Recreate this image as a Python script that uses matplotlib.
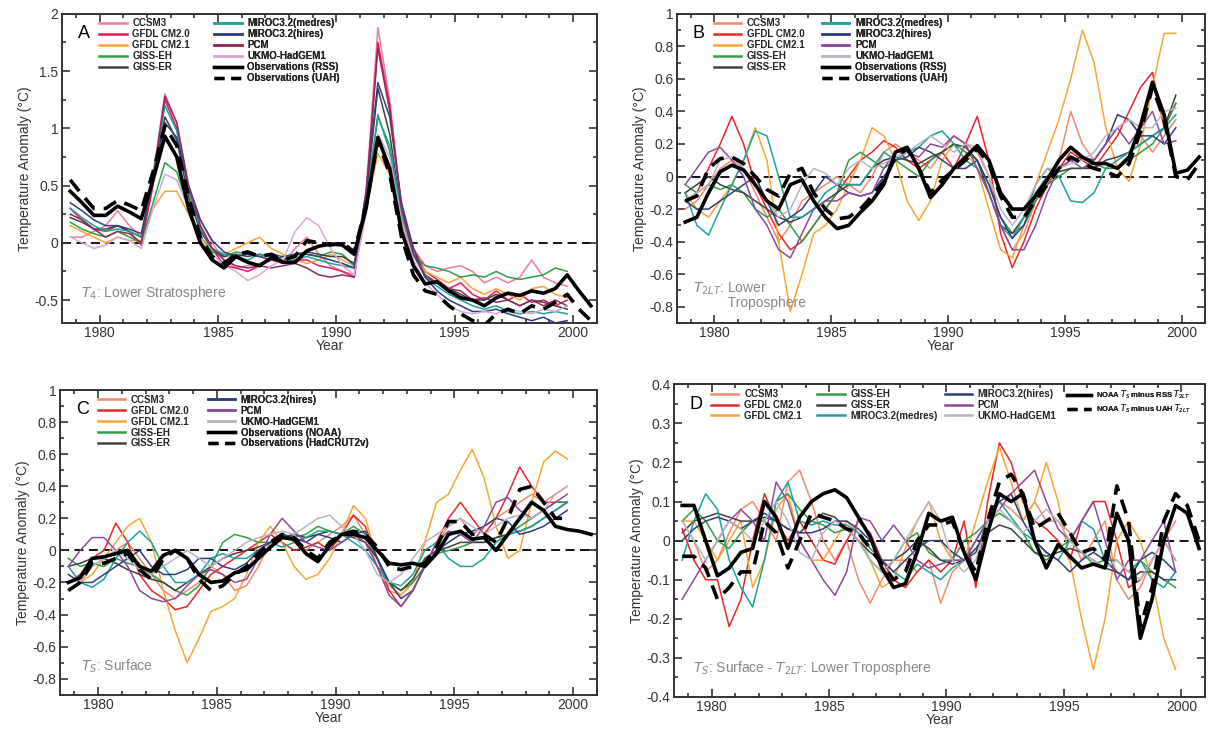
import numpy as np
import matplotlib.pyplot as plt
from matplotlib.ticker import MultipleLocator, FuncFormatter
from matplotlib.lines import Line2D

# half-year time axis (models stop at end of 1999, observations run to 2001)
T_MOD = np.arange(1978.75, 2000.0, 0.5)
T_OBS = np.arange(1978.75, 2001.0, 0.5)

MODEL_NAMES = ['CCSM3', 'GFDL CM2.0', 'GFDL CM2.1', 'GISS-EH', 'GISS-ER',
               'MIROC3.2(medres)', 'MIROC3.2(hires)', 'PCM', 'UKMO-HadGEM1']

COLORS = {
    'CCSM3': '#f08a6c', 'GFDL CM2.0': '#e8262a', 'GFDL CM2.1': '#f7a534',
    'GISS-EH': '#2f9e44', 'GISS-ER': '#3f3f3f', 'MIROC3.2(medres)': '#1aa39a',
    'MIROC3.2(hires)': '#2e3f80', 'PCM': '#8e4a9c', 'UKMO-HadGEM1': '#b8b4c4',
}
COLORS_A = dict(COLORS, **{'CCSM3': '#f27a9a', 'GFDL CM2.0': '#e5195f',
                           'PCM': '#8c2d5e', 'UKMO-HadGEM1': '#d8a8d8'})

# ================================
# A: T4 lower stratosphere
# ================================
A_MODELS = {
    'CCSM3': [0.05, 0.05, 0.10, 0.15, 0.28, 0.15, 0.05, 0.60, 1.30, 1.05, 0.50, 0.20, 0.00, -0.15, -0.22,
              -0.20, -0.18, -0.15, -0.18, -0.05, 0.05, -0.10, -0.20, -0.25, -0.28, 0.45, 1.88, 1.25, 0.30,
              -0.05, -0.20, -0.25, -0.22, -0.20, -0.25, -0.35, -0.30, -0.35, -0.30, -0.15, -0.30, -0.35, -0.38],
    'GFDL CM2.0': [0.30, 0.20, 0.12, 0.10, 0.15, 0.10, -0.02, 0.50, 1.25, 1.00, 0.45, 0.15, -0.05, -0.20, -0.22,
                   -0.25, -0.20, -0.15, -0.18, -0.15, -0.15, -0.20, -0.22, -0.25, -0.30, 0.40, 1.75, 1.20, 0.30,
                   -0.05, -0.25, -0.32, -0.40, -0.35, -0.45, -0.50, -0.42, -0.50, -0.45, -0.52, -0.50, -0.55, -0.50],
    'GFDL CM2.1': [0.15, 0.10, 0.05, 0.00, 0.05, 0.02, 0.02, 0.30, 0.45, 0.45, 0.25, 0.05, -0.05, -0.10, -0.05,
                   0.00, 0.05, -0.05, -0.10, -0.15, -0.18, -0.15, -0.10, -0.15, -0.20, 0.30, 0.78, 0.60, 0.15,
                   -0.10, -0.25, -0.30, -0.35, -0.30, -0.40, -0.45, -0.40, -0.45, -0.50, -0.40, -0.38, -0.45, -0.48],
    'GISS-EH': [0.18, 0.12, 0.08, 0.05, 0.10, 0.05, 0.00, 0.35, 0.70, 0.62, 0.30, 0.05, -0.08, -0.12, -0.08,
                -0.10, -0.12, -0.10, -0.12, -0.10, -0.10, -0.12, -0.08, -0.10, -0.20, 0.35, 1.12, 0.80, 0.20,
                -0.10, -0.20, -0.22, -0.25, -0.30, -0.28, -0.30, -0.25, -0.30, -0.32, -0.30, -0.28, -0.22, -0.25],
    'GISS-ER': [0.22, 0.18, 0.12, 0.12, 0.15, 0.10, 0.05, 0.55, 1.10, 0.90, 0.40, 0.10, -0.05, -0.12, -0.10,
                -0.12, -0.10, -0.12, -0.15, -0.10, -0.08, -0.10, -0.12, -0.12, -0.18, 0.40, 1.35, 0.95, 0.25,
                -0.10, -0.30, -0.35, -0.40, -0.45, -0.50, -0.50, -0.45, -0.50, -0.55, -0.50, -0.52, -0.55, -0.58],
    'MIROC3.2(medres)': [0.30, 0.22, 0.15, 0.10, 0.12, 0.10, 0.05, 0.60, 1.20, 0.98, 0.45, 0.12, -0.05, -0.10,
                         -0.12, -0.15, -0.10, -0.12, -0.18, -0.15, -0.12, -0.15, -0.18, -0.20, -0.22, 0.35, 1.10,
                         0.85, 0.25, -0.10, -0.30, -0.38, -0.45, -0.50, -0.55, -0.58, -0.55, -0.60, -0.62, -0.60,
                         -0.62, -0.60, -0.62],
    'MIROC3.2(hires)': [0.35, 0.28, 0.20, 0.15, 0.15, 0.12, 0.08, 0.55, 1.05, 0.92, 0.50, 0.20, 0.02, -0.08,
                        -0.12, -0.10, -0.12, -0.15, -0.12, -0.10, -0.10, -0.12, -0.15, -0.18, -0.22, 0.45, 1.40,
                        1.10, 0.35, -0.05, -0.30, -0.42, -0.50, -0.55, -0.60, -0.60, -0.58, -0.62, -0.65, -0.68,
                        -0.65, -0.70, -0.68],
    'PCM': [0.25, 0.20, 0.12, 0.05, 0.10, 0.08, 0.00, 0.55, 1.28, 1.05, 0.50, 0.15, -0.05, -0.15, -0.20,
            -0.22, -0.20, -0.22, -0.20, -0.18, -0.22, -0.28, -0.30, -0.28, -0.30, 0.40, 1.70, 1.15, 0.30,
            -0.10, -0.28, -0.35, -0.40, -0.42, -0.50, -0.48, -0.52, -0.50, -0.55, -0.50, -0.55, -0.50, -0.55],
    'UKMO-HadGEM1': [0.05, 0.00, -0.05, -0.02, 0.05, 0.02, -0.05, 0.30, 0.60, 0.55, 0.30, 0.05, -0.10, -0.20,
                     -0.25, -0.33, -0.28, -0.20, -0.15, 0.10, 0.22, 0.15, -0.05, -0.20, -0.28, 0.25, 0.95, 0.75,
                     0.20, -0.15, -0.35, -0.45, -0.55, -0.60, -0.62, -0.60, -0.62, -0.58, -0.60, -0.62, -0.58,
                     -0.60, -0.55],
}
A_RSS = [0.45, 0.35, 0.24, 0.24, 0.32, 0.27, 0.21, 0.55, 0.93, 0.75, 0.30, 0.00, -0.15, -0.22, -0.12,
         -0.17, -0.20, -0.13, -0.17, -0.17, -0.07, -0.03, -0.01, -0.02, -0.10, 0.30, 0.92, 0.65, 0.10,
         -0.20, -0.36, -0.34, -0.42, -0.48, -0.50, -0.55, -0.48, -0.44, -0.46, -0.42, -0.44, -0.40, -0.28,
         -0.42, -0.55]
A_UAH = [0.55, 0.42, 0.30, 0.30, 0.37, 0.33, 0.28, 0.62, 1.02, 0.85, 0.40, 0.05, -0.12, -0.18, -0.10,
         -0.08, -0.12, -0.10, -0.15, -0.12, 0.02, 0.00, -0.02, 0.00, -0.08, 0.32, 0.90, 0.60, 0.05,
         -0.28, -0.42, -0.45, -0.55, -0.62, -0.68, -0.72, -0.62, -0.58, -0.62, -0.55, -0.58, -0.52, -0.45,
         -0.58, -0.68]

# ================================
# B: T2LT lower troposphere
# ================================
B_MODELS = {
    'CCSM3': [-0.20, -0.15, -0.05, 0.05, 0.10, 0.05, -0.10, -0.25, -0.40, -0.30, -0.15, -0.10, -0.05, 0.00,
              -0.05, -0.10, 0.00, 0.15, 0.20, 0.15, 0.10, 0.05, 0.15, 0.25, 0.20, 0.15, 0.00, -0.30, -0.45,
              -0.35, -0.15, 0.00, 0.10, 0.40, 0.20, 0.10, 0.20, 0.30, 0.35, 0.25, 0.15, 0.25, 0.35],
    'GFDL CM2.0': [-0.15, -0.10, 0.05, 0.20, 0.37, 0.20, -0.05, -0.20, -0.35, -0.45, -0.40, -0.30, -0.20,
                   -0.10, 0.00, 0.10, 0.15, 0.22, 0.18, 0.10, 0.05, 0.10, 0.15, 0.05, 0.20, 0.37, 0.10, -0.35,
                   -0.56, -0.40, -0.20, -0.05, 0.05, 0.15, 0.10, 0.05, 0.15, 0.25, 0.40, 0.55, 0.64, 0.30, 0.45],
    'GFDL CM2.1': [-0.10, -0.20, -0.25, -0.15, -0.05, 0.10, 0.30, 0.10, -0.40, -0.83, -0.60, -0.35, -0.30,
                   -0.20, -0.05, 0.10, 0.30, 0.25, 0.10, -0.15, -0.27, -0.15, 0.10, 0.20, 0.15, 0.05, -0.20,
                   -0.45, -0.50, -0.30, -0.05, 0.15, 0.35, 0.60, 0.90, 0.70, 0.30, 0.05, -0.03, 0.20, 0.55,
                   0.88, 0.88],
    'GISS-EH': [-0.05, -0.10, -0.05, -0.08, -0.05, -0.10, -0.20, -0.25, -0.20, -0.30, -0.40, -0.30, -0.20,
                -0.10, 0.10, 0.15, 0.10, 0.05, 0.10, 0.05, 0.00, 0.10, 0.15, 0.20, 0.15, 0.10, -0.05, -0.25,
                -0.35, -0.30, -0.15, -0.05, 0.00, 0.05, 0.05, 0.08, 0.05, 0.05, 0.10, 0.15, 0.20, 0.30, 0.45],
    'GISS-ER': [-0.10, -0.05, 0.00, -0.05, -0.08, -0.10, -0.15, -0.20, -0.25, -0.28, -0.25, -0.20, -0.15,
                -0.10, -0.05, -0.05, 0.05, 0.10, 0.12, 0.10, 0.08, 0.12, 0.15, 0.20, 0.18, 0.10, -0.10, -0.30,
                -0.35, -0.25, -0.10, 0.00, 0.03, 0.05, 0.05, 0.05, 0.10, 0.12, 0.15, 0.20, 0.25, 0.30, 0.50],
    'MIROC3.2(medres)': [-0.10, -0.30, -0.36, -0.20, -0.05, 0.10, 0.28, 0.25, 0.00, -0.25, -0.25, -0.20,
                         -0.10, -0.05, -0.05, -0.05, 0.05, 0.15, 0.10, 0.15, 0.18, 0.25, 0.28, 0.20, 0.10, 0.05,
                         -0.10, -0.30, -0.38, -0.25, -0.05, 0.05, 0.00, -0.15, -0.16, -0.10, 0.05, 0.10, 0.15,
                         0.20, 0.25, 0.30, 0.38],
    'MIROC3.2(hires)': [-0.15, -0.20, -0.20, -0.15, -0.10, -0.05, 0.00, -0.15, -0.30, -0.25, -0.20, -0.10,
                        0.00, -0.05, -0.10, -0.12, -0.10, 0.00, 0.10, 0.12, 0.18, 0.15, 0.10, 0.05, 0.05, 0.10,
                        -0.05, -0.25, -0.38, -0.30, -0.12, 0.00, 0.05, 0.10, 0.12, 0.10, 0.20, 0.38, 0.35, 0.25,
                        0.25, 0.20, 0.30],
    'PCM': [-0.05, 0.05, 0.15, 0.18, 0.10, 0.00, -0.20, -0.30, -0.45, -0.50, -0.35, -0.20, -0.15, -0.15,
            -0.10, -0.12, -0.10, 0.05, 0.15, 0.15, 0.12, 0.20, 0.18, 0.25, 0.20, 0.05, -0.10, -0.30, -0.45,
            -0.45, -0.30, -0.10, 0.05, 0.10, 0.05, 0.10, 0.20, 0.30, 0.20, 0.30, 0.40, 0.20, 0.22],
    'UKMO-HadGEM1': [-0.15, -0.10, -0.05, 0.10, 0.12, 0.05, -0.05, -0.15, -0.25, -0.20, -0.05, 0.05, 0.02,
                     -0.05, 0.05, 0.10, 0.05, 0.08, 0.12, 0.15, 0.20, 0.25, 0.20, 0.15, 0.20, 0.18, 0.00, -0.20,
                     -0.30, -0.20, -0.05, 0.05, 0.05, 0.08, 0.10, 0.15, 0.25, 0.30, 0.35, 0.30, 0.30, 0.40, 0.42],
}
B_RSS = [-0.28, -0.25, -0.10, 0.03, 0.07, 0.04, -0.05, -0.15, -0.20, -0.05, -0.02, -0.15, -0.25, -0.32,
         -0.30, -0.22, -0.15, -0.05, 0.15, 0.18, 0.05, -0.13, -0.05, 0.05, 0.12, 0.19, 0.10, -0.10, -0.20,
         -0.20, -0.12, -0.02, 0.10, 0.18, 0.12, 0.08, 0.08, 0.05, 0.12, 0.32, 0.58, 0.38, 0.02, 0.04, 0.12]
B_UAH = [-0.15, -0.12, 0.05, 0.11, 0.12, 0.08, 0.00, -0.08, -0.12, 0.02, 0.05, -0.10, -0.20, -0.26,
         -0.25, -0.20, -0.12, -0.03, 0.12, 0.17, 0.05, -0.10, -0.02, 0.04, 0.10, 0.17, 0.08, -0.12, -0.25,
         -0.25, -0.15, -0.05, 0.05, 0.12, 0.08, 0.05, 0.03, 0.00, 0.08, 0.28, 0.55, 0.35, 0.00, -0.02, 0.08]

# ================================
# C: TS surface
# ================================
C_MODELS = {
    'CCSM3': [-0.25, -0.20, -0.10, -0.05, 0.00, 0.05, -0.05, -0.15, -0.25, -0.30, -0.25, -0.20, -0.10,
              -0.15, -0.25, -0.22, -0.10, 0.05, 0.10, 0.05, 0.00, 0.05, 0.10, 0.15, 0.22, 0.10, -0.10, -0.25,
              -0.28, -0.20, -0.10, 0.05, 0.15, 0.20, 0.10, 0.15, 0.20, 0.25, 0.30, 0.35, 0.30, 0.35, 0.40],
    'GFDL CM2.0': [-0.20, -0.15, -0.05, 0.00, 0.17, 0.05, -0.15, -0.25, -0.30, -0.37, -0.35, -0.25, -0.15,
                   -0.10, -0.05, 0.00, 0.05, 0.10, 0.05, 0.00, 0.02, 0.05, 0.00, 0.10, 0.22, 0.15, -0.05, -0.25,
                   -0.35, -0.25, -0.10, 0.05, 0.20, 0.30, 0.20, 0.10, 0.20, 0.35, 0.52, 0.40, 0.30, 0.30, 0.30],
    'GFDL CM2.1': [-0.25, -0.20, -0.15, -0.05, 0.05, 0.15, 0.20, 0.05, -0.25, -0.50, -0.70, -0.55, -0.38,
                   -0.35, -0.30, -0.15, 0.05, 0.15, 0.05, -0.10, -0.18, -0.15, -0.05, 0.10, 0.28, 0.20, -0.05,
                   -0.22, -0.28, -0.20, 0.05, 0.30, 0.35, 0.50, 0.63, 0.45, 0.15, -0.05, 0.00, 0.30, 0.55, 0.62,
                   0.57],
    'GISS-EH': [-0.05, -0.10, -0.08, -0.10, -0.05, -0.08, -0.10, -0.15, -0.20, -0.25, -0.28, -0.22, -0.10,
                0.05, 0.10, 0.08, 0.05, 0.05, 0.10, 0.08, 0.10, 0.15, 0.12, 0.10, 0.15, 0.10, -0.05, -0.20,
                -0.25, -0.20, -0.10, -0.02, 0.00, 0.02, 0.05, 0.05, 0.08, 0.10, 0.15, 0.20, 0.25, 0.30, 0.30],
    'GISS-ER': [-0.10, -0.08, -0.05, -0.05, -0.08, -0.12, -0.15, -0.18, -0.20, -0.25, -0.20, -0.15, -0.10,
                -0.05, -0.02, 0.00, 0.02, 0.05, 0.08, 0.10, 0.08, 0.10, 0.12, 0.10, 0.08, 0.05, -0.05, -0.20,
                -0.25, -0.18, -0.05, 0.00, 0.02, 0.05, 0.05, 0.05, 0.08, 0.10, 0.12, 0.15, 0.20, 0.25, 0.30],
    'MIROC3.2(medres)': [-0.10, -0.20, -0.23, -0.18, -0.05, 0.05, 0.12, 0.05, -0.10, -0.20, -0.20, -0.15,
                         -0.05, -0.02, -0.05, -0.05, 0.00, 0.05, 0.02, 0.05, 0.08, 0.12, 0.12, 0.10, 0.05, 0.00,
                         -0.10, -0.20, -0.22, -0.15, 0.00, 0.05, -0.05, -0.10, -0.10, -0.05, 0.05, 0.10, 0.12,
                         0.15, 0.20, 0.25, 0.30],
    'MIROC3.2(hires)': [-0.15, -0.20, -0.20, -0.15, -0.10, -0.05, 0.00, -0.10, -0.15, -0.15, -0.12, -0.05,
                        -0.05, -0.10, -0.12, -0.08, 0.00, 0.05, 0.10, 0.08, 0.05, 0.10, 0.08, 0.05, 0.10, 0.12,
                        -0.05, -0.20, -0.30, -0.25, -0.10, 0.00, 0.05, 0.10, 0.12, 0.15, 0.20, 0.18, 0.10, 0.12,
                        0.15, 0.20, 0.25],
    'PCM': [-0.10, 0.00, 0.08, 0.08, 0.00, -0.10, -0.25, -0.30, -0.32, -0.30, -0.22, -0.15, -0.12, -0.15,
            -0.20, -0.18, -0.05, 0.10, 0.20, 0.12, 0.05, 0.02, 0.00, 0.05, 0.10, 0.05, -0.10, -0.28, -0.35,
            -0.25, -0.10, 0.05, 0.12, 0.10, 0.05, 0.15, 0.30, 0.33, 0.25, 0.20, 0.25, 0.30, 0.35],
    'UKMO-HadGEM1': [-0.20, -0.18, -0.10, -0.05, 0.00, -0.05, -0.12, -0.15, -0.10, -0.05, 0.00, -0.05, -0.10,
                     -0.05, 0.00, 0.05, 0.08, 0.10, 0.12, 0.10, 0.15, 0.20, 0.22, 0.15, 0.10, 0.00, -0.15, -0.20,
                     -0.15, -0.05, 0.05, 0.10, 0.15, 0.20, 0.15, 0.10, 0.15, 0.20, 0.22, 0.20, 0.25, 0.35, 0.40],
}
C_NOAA = [-0.20, -0.17, -0.05, -0.04, -0.02, 0.00, -0.10, -0.13, -0.03, 0.00, -0.05, -0.15, -0.20, -0.19,
          -0.14, -0.12, -0.05, 0.02, 0.08, 0.07, -0.02, -0.07, 0.03, 0.10, 0.10, 0.08, 0.00, -0.08, -0.09,
          -0.08, -0.10, -0.02, 0.10, 0.12, 0.07, 0.08, 0.00, 0.10, 0.20, 0.30, 0.25, 0.15, 0.13, 0.12, 0.10]
C_HADCRUT = [-0.25, -0.20, -0.08, -0.08, -0.05, -0.02, -0.12, -0.18, -0.05, 0.00, -0.05, -0.18, -0.25,
             -0.22, -0.15, -0.10, -0.02, 0.05, 0.10, 0.08, 0.00, -0.05, 0.05, 0.10, 0.12, 0.10, 0.02, -0.10,
             -0.12, -0.10, -0.08, 0.02, 0.18, 0.18, 0.10, 0.10, 0.05, 0.20, 0.38, 0.40, 0.30, 0.20, 0.20]

# ================================
# D: TS minus T2LT
# ================================
D_MODELS = {
    'CCSM3': [0.05, 0.00, -0.08, -0.05, 0.02, 0.08, 0.10, 0.05, 0.00, 0.15, 0.18, 0.10, 0.00, -0.05, 0.00,
              -0.10, -0.16, -0.10, -0.05, -0.05, -0.08, -0.05, -0.16, -0.08, -0.05, 0.00, 0.05, 0.10, 0.08,
              0.05, 0.10, 0.05, 0.05, 0.02, -0.05, 0.00, 0.05, -0.10, -0.15, -0.12, -0.05, 0.00, 0.05],
    'GFDL CM2.0': [0.03, -0.05, -0.10, -0.10, -0.22, -0.15, 0.00, 0.12, 0.05, 0.00, 0.05, 0.00, -0.05, -0.06,
                   0.00, 0.05, 0.02, -0.05, -0.10, -0.12, -0.08, -0.05, -0.08, -0.05, 0.05, -0.12, 0.10, 0.25,
                   0.20, 0.10, 0.05, 0.03, 0.00, -0.05, 0.05, 0.10, 0.10, 0.00, -0.12, -0.10, -0.05, 0.00, -0.05],
    'GFDL CM2.1': [0.05, 0.05, 0.00, -0.05, 0.00, 0.05, -0.12, -0.05, 0.08, 0.12, 0.00, -0.05, -0.05, 0.00,
                   0.05, 0.02, -0.05, -0.12, -0.10, -0.02, 0.05, 0.10, 0.00, -0.05, -0.05, 0.05, 0.15, 0.24,
                   0.15, 0.05, 0.10, 0.20, 0.10, -0.05, -0.20, -0.33, -0.20, 0.00, 0.05, 0.00, -0.10, -0.25,
                   -0.33],
    'GISS-EH': [0.05, 0.08, 0.05, 0.00, -0.02, 0.02, 0.05, 0.05, 0.10, 0.12, 0.08, 0.05, 0.04, 0.02, 0.03,
                0.00, -0.05, -0.08, -0.05, 0.00, 0.02, -0.03, -0.05, -0.05, 0.00, 0.02, 0.05, 0.07, 0.05, 0.02,
                -0.03, -0.05, -0.02, 0.00, -0.03, -0.06, -0.05, -0.05, -0.08, -0.05, -0.08, -0.10, -0.12],
    'GISS-ER': [0.02, 0.05, 0.06, 0.07, 0.06, 0.05, 0.05, 0.06, 0.05, 0.03, 0.02, 0.05, 0.07, 0.06, 0.03,
                0.00, -0.03, -0.05, -0.05, -0.03, 0.00, -0.02, -0.05, -0.06, -0.05, -0.02, 0.02, 0.04, 0.03,
                0.00, -0.03, -0.04, -0.03, -0.02, -0.03, -0.05, -0.07, -0.08, -0.10, -0.08, -0.08, -0.10, -0.10],
    'MIROC3.2(medres)': [-0.05, 0.05, 0.12, 0.08, -0.05, -0.12, -0.17, -0.05, 0.10, 0.15, 0.05, 0.04, 0.05,
                         0.04, 0.04, 0.02, -0.02, -0.05, -0.08, -0.10, -0.06, -0.08, -0.10, -0.07, -0.05, 0.00,
                         0.05, 0.10, 0.06, 0.02, 0.00, -0.03, -0.05, 0.00, 0.05, 0.03, -0.05, -0.08, -0.10,
                         -0.05, -0.10, -0.12, -0.08],
    'MIROC3.2(hires)': [0.00, 0.03, 0.05, 0.06, 0.05, 0.03, 0.05, 0.07, 0.05, 0.03, 0.02, 0.02, 0.03, 0.05,
                        0.05, 0.03, 0.00, -0.05, -0.08, -0.05, -0.02, 0.00, 0.00, -0.03, -0.05, -0.03, 0.05,
                        0.10, 0.12, 0.05, 0.00, -0.03, -0.05, -0.08, -0.05, -0.03, -0.05, -0.08, -0.10, -0.05,
                        -0.03, -0.05, -0.08],
    'PCM': [-0.15, -0.10, -0.05, 0.00, 0.05, 0.08, 0.05, 0.00, 0.15, 0.10, 0.00, -0.05, -0.10, -0.14, -0.08,
            0.06, 0.05, 0.00, 0.04, 0.00, -0.05, -0.07, -0.06, -0.05, -0.05, 0.00, 0.05, 0.08, 0.12, 0.15,
            0.18, 0.10, 0.03, 0.00, 0.05, 0.10, 0.00, -0.10, -0.05, -0.05, 0.00, 0.05, -0.08],
    'UKMO-HadGEM1': [0.05, 0.00, -0.05, 0.00, 0.05, 0.03, 0.00, 0.05, 0.10, 0.05, -0.03, -0.05, 0.02, 0.05,
                     0.03, 0.00, -0.05, -0.08, -0.05, 0.00, 0.05, 0.10, 0.05, -0.05, -0.08, -0.05, 0.05, 0.08,
                     0.05, 0.02, 0.05, 0.08, 0.05, 0.00, -0.03, -0.05, -0.07, -0.05, -0.08, -0.10, -0.05, 0.00,
                     -0.05],
}
D_RSS = [0.09, 0.09, 0.00, -0.09, -0.07, -0.03, -0.02, 0.10, 0.06, -0.02, 0.06, 0.10, 0.12, 0.13, 0.11,
         0.06, 0.01, -0.07, -0.12, -0.11, -0.03, 0.07, 0.05, 0.06, -0.03, -0.10, 0.02, 0.12, 0.10, 0.12,
         0.00, -0.07, -0.01, -0.04, -0.07, -0.06, -0.07, 0.07, 0.00, -0.25, -0.15, 0.00, 0.09, 0.07, -0.02]
D_UAH = [-0.04, -0.04, -0.07, -0.15, -0.12, -0.08, -0.08, 0.05, 0.02, -0.07, 0.00, 0.07, 0.06, 0.05, 0.03,
         0.02, -0.02, -0.06, -0.10, -0.08, 0.00, 0.04, 0.04, 0.05, -0.03, -0.08, 0.05, 0.15, 0.17, 0.12,
         0.03, 0.05, 0.07, 0.02, -0.03, -0.02, -0.05, 0.14, 0.05, -0.22, -0.12, 0.05, 0.12, 0.09, 0.00]

LEGEND_FONT = ['Liberation Sans Narrow', 'Liberation Sans', 'DejaVu Sans']
TEXT_FONT = ['Liberation Sans', 'DejaVu Sans']
OBS_LW = 2.6
MOD_LW = 1.1


def fmt(v, pos):
    return f'{round(v, 6) + 0:g}'


def style_axes(ax, ylim, major, minor):
    ax.set_xlim(1978.4, 2001.0)
    ax.set_ylim(*ylim)
    ax.xaxis.set_major_locator(MultipleLocator(5))
    ax.xaxis.set_minor_locator(MultipleLocator(1))
    ax.yaxis.set_major_locator(MultipleLocator(major))
    ax.yaxis.set_minor_locator(MultipleLocator(minor))
    ax.yaxis.set_major_formatter(FuncFormatter(fmt))
    ax.tick_params(which='both', direction='in', top=True, right=True, colors='#333333',
                   labelsize=10, width=1.2, pad=2.5)
    ax.tick_params(which='major', length=6)
    ax.tick_params(which='minor', length=3)
    for lab in ax.get_xticklabels() + ax.get_yticklabels():
        lab.set_family(TEXT_FONT)
    for s in ax.spines.values():
        s.set_linewidth(1.4)
        s.set_color('#333333')
    ax.axhline(0, color='black', lw=1.3, ls=(0, (5, 3)), zorder=1)
    ax.set_xlabel('Year', fontsize=10, color='#333333', labelpad=-1, family=TEXT_FONT)
    ax.set_ylabel('Temperature Anomaly (°C)', fontsize=10, color='#333333', labelpad=2, family=TEXT_FONT)


def column_legend(ax, entries, x, y=0.985, size=7, hlen=2.8):
    handles = [Line2D([], [], color=c, lw=lw, ls=ls) for _, c, lw, ls in entries]
    labels = [e[0] for e in entries]
    leg = ax.legend(handles, labels, loc='upper left', bbox_to_anchor=(x, y), frameon=False,
                    handlelength=hlen, handletextpad=0.6, labelspacing=0.1, borderaxespad=0, borderpad=0,
                    prop=dict(family=LEGEND_FONT, weight='bold', size=size))
    for t in leg.get_texts():
        t.set_color('#222222')
    ax.add_artist(leg)


def draw_panel(ax, models, colors, obs):
    for name, vals in models.items():
        ax.plot(T_MOD[:len(vals)], vals, color=colors[name], lw=MOD_LW, zorder=2)
    solid, dashed = obs
    ax.plot(T_OBS[:len(solid)], solid, color='black', lw=OBS_LW, zorder=4)
    ax.plot(T_OBS[:len(dashed)], dashed, color='black', lw=OBS_LW, ls=(0, (4, 2.5)), zorder=4)


def entry(name, colors):
    return (name, colors[name], 1.8, '-')


OBS_DASH = (0, (3, 2))
fig = plt.figure(figsize=(12.1, 7.29), dpi=100)

# ---- A ----
axA = fig.add_axes([0.0512, 0.557, 0.442, 0.424])
draw_panel(axA, A_MODELS, COLORS_A, (A_RSS, A_UAH))
style_axes(axA, (-0.7, 2.0), 0.5, 0.25)
column_legend(axA, [entry(n, COLORS_A) for n in MODEL_NAMES[:5]], 0.07)
column_legend(axA, [entry(n, COLORS_A) for n in MODEL_NAMES[5:]] +
              [('Observations (RSS)', 'black', 2.4, '-'), ('Observations (UAH)', 'black', 2.4, OBS_DASH)],
              0.285)
axA.text(0.03, 0.935, 'A', transform=axA.transAxes, fontsize=13, family=TEXT_FONT, va='center')
axA.text(0.035, 0.085, r'$T_4$: Lower Stratosphere', transform=axA.transAxes, fontsize=10,
         color='#888888', family=LEGEND_FONT)

# ---- B ----
axB = fig.add_axes([0.5595, 0.557, 0.4364, 0.424])
draw_panel(axB, B_MODELS, COLORS, (B_RSS, B_UAH))
style_axes(axB, (-0.9, 1.0), 0.2, 0.1)
column_legend(axB, [entry(n, COLORS) for n in MODEL_NAMES[:5]], 0.07)
column_legend(axB, [entry(n, COLORS) for n in MODEL_NAMES[5:]] +
              [('Observations (RSS)', 'black', 2.4, '-'), ('Observations (UAH)', 'black', 2.4, OBS_DASH)],
              0.275)
axB.text(0.03, 0.935, 'B', transform=axB.transAxes, fontsize=13, family=TEXT_FONT, va='center')
axB.text(0.03, 0.05, r'$T_{2LT}$: Lower' + '\n         Troposphere', transform=axB.transAxes, fontsize=10,
         color='#888888', family=LEGEND_FONT, linespacing=0.95)

# ---- C ----
axC = fig.add_axes([0.0496, 0.047, 0.4438, 0.418])
draw_panel(axC, C_MODELS, COLORS, (C_NOAA, C_HADCRUT))
style_axes(axC, (-0.9, 1.0), 0.2, 0.1)
column_legend(axC, [entry(n, COLORS) for n in MODEL_NAMES[:5]], 0.07)
column_legend(axC, [entry(n, COLORS) for n in MODEL_NAMES[6:]] +
              [('Observations (NOAA)', 'black', 2.4, '-'),
               ('Observations (HadCRUT2v)', 'black', 2.4, OBS_DASH)], 0.275)
axC.text(0.03, 0.935, 'C', transform=axC.transAxes, fontsize=13, family=TEXT_FONT, va='center')
axC.text(0.04, 0.08, r'$T_S$: Surface', transform=axC.transAxes, fontsize=10,
         color='#888888', family=LEGEND_FONT)

# ---- D ----
axD = fig.add_axes([0.557, 0.0439, 0.4388, 0.429])
draw_panel(axD, D_MODELS, COLORS, (D_RSS, D_UAH))
style_axes(axD, (-0.4, 0.4), 0.1, 0.05)
column_legend(axD, [entry(n, COLORS) for n in MODEL_NAMES[:3]], 0.07)
column_legend(axD, [entry(n, COLORS) for n in MODEL_NAMES[3:6]], 0.27)
column_legend(axD, [entry(n, COLORS) for n in MODEL_NAMES[6:]], 0.51)
column_legend(axD, [(r'NOAA $T_S$ minus RSS $T_{2LT}$', 'black', 2.4, '-'),
                    (r'NOAA $T_S$ minus UAH $T_{2LT}$', 'black', 2.4, OBS_DASH)], 0.74, size=5.5, hlen=3.2)
axD.text(0.03, 0.935, 'D', transform=axD.transAxes, fontsize=13, family=TEXT_FONT, va='center')
axD.text(0.035, 0.08, r'$T_S$: Surface - $T_{2LT}$: Lower Troposphere', transform=axD.transAxes,
         fontsize=10, color='#888888', family=LEGEND_FONT)

fig.savefig('out.png', dpi=100, facecolor='white')
